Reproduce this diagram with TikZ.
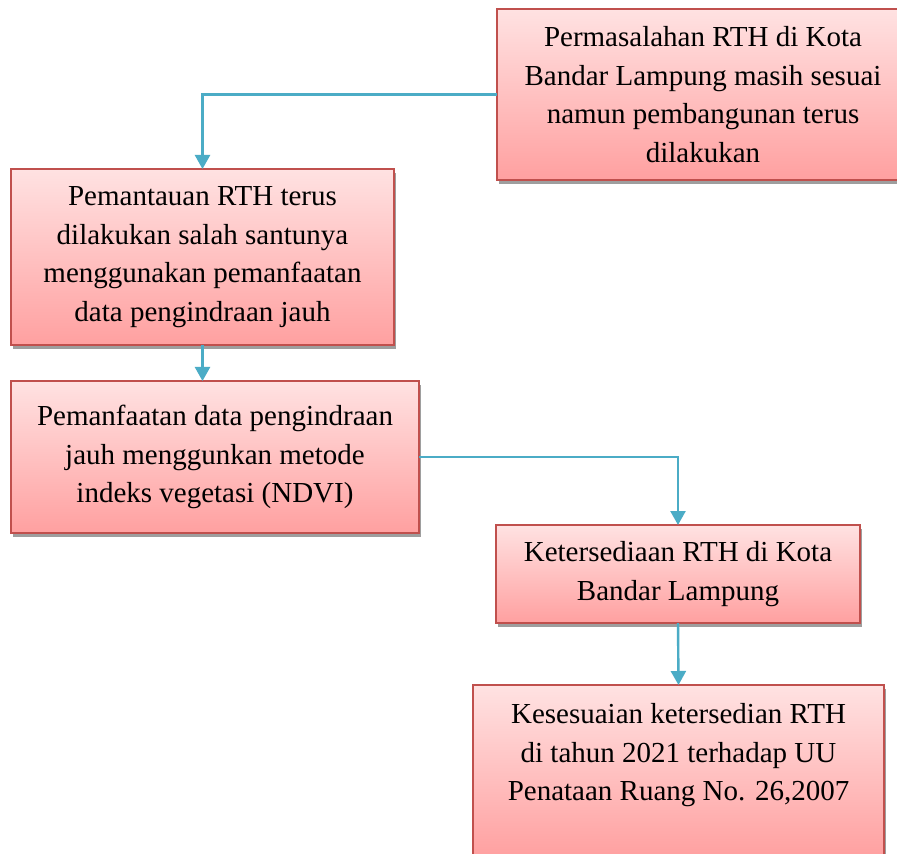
\documentclass[tikz,border=0pt]{standalone}
\usepackage{fontspec}
\setmainfont{Liberation Serif}
\usepackage{xcolor}
\usepackage{tikz}
\usetikzlibrary{arrows.meta}
\usetikzlibrary{shadows}
\definecolor{rthTop}{RGB}{255,226,226}
\definecolor{rthBot}{RGB}{255,160,160}
\definecolor{rthEdge}{RGB}{192,80,77}
\definecolor{rthFlow}{RGB}{75,172,198}
\tikzset{
  rthBox/.style={rectangle, draw=rthEdge, line width=1pt, top color=rthTop,
                 bottom color=rthBot, inner sep=0pt, outer sep=0pt, align=center,
                 font=\fontsize{14.5}{19.3}\selectfont,
                 drop shadow={shadow xshift=1pt, shadow yshift=-2pt,
                              fill=black!38, opacity=1}},
  rthFlow/.style={draw=rthFlow, line width=1.2pt,
                  -{Triangle[length=7pt, width=7.5pt]}}}

\begin{document}
\begin{tikzpicture}[x=0.5pt, y=-0.5pt]
  \clip (0,0) rectangle (897,854);
  \fill[white] (0,0) rectangle (897,854);
  % boxes, top to bottom
  \node[rthBox, minimum width=206pt, minimum height=85.5pt] (masalah) at (703,94.5)
    {Permasalahan RTH di Kota\\ Bandar Lampung masih sesuai\\ namun pembangunan terus\\ dilakukan};
  \node[rthBox, minimum width=191.5pt, minimum height=88pt] (pantau) at (202.5,257)
    {Pemantauan RTH terus\\ dilakukan salah santunya\\ menggunakan pemanfaatan\\ data pengindraan jauh};
  \node[rthBox, minimum width=204pt, minimum height=76pt] (ndvi) at (215,457)
    {Pemanfaatan data pengindraan\\ jauh menggunkan metode\\ indeks vegetasi (NDVI)};
  \node[rthBox, minimum width=182pt, minimum height=49pt] (sedia) at (678,574)
    {Ketersediaan RTH di Kota\\ Bandar Lampung};
  \node[rthBox, minimum width=205.5pt, minimum height=86.5pt] (sesuai) at (678.5,771.5)
    {Kesesuaian ketersedian RTH\\ di tahun 2021 terhadap UU\\ Penataan Ruang No. 26,2007\\ ~};
  % connectors
  \draw[rthFlow] (masalah.west) -| (pantau.north);
  \draw[rthFlow] (pantau.south) -- (pantau.south |- ndvi.north);
  \draw[rthFlow] (ndvi.east) -| (sedia.north);
  \draw[rthFlow] (sedia.south) -- (sesuai.north);
\end{tikzpicture}
\end{document}
